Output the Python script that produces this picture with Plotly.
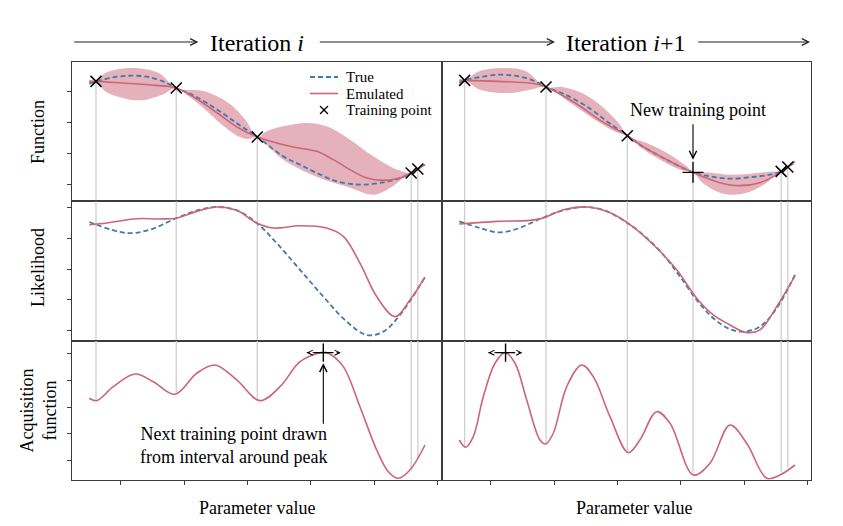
import plotly.graph_objects as go

# ---------------- data ----------------
x_tick_vals = [0.5, 1.5, 2.5, 3.5, 4.5, 5.5]
y_tick_vals_function = [0, 1, 2, 3]
y_tick_vals_like = [0, 1, 2, 3, 4]
y_tick_vals_acq = [0, 1, 2, 3, 4]
legend_labels = ["True", "Emulated", "Training point"]

# ---- Iteration i : function panel ----
it1_true_x = [0.0, 0.111, 0.411, 0.675, 0.938, 1.201, 1.374, 1.675, 2.022, 2.360, 2.654, 3.065, 3.329, 3.592, 3.908, 4.276, 4.645, 4.908, 5.085, 5.19, 5.303]
it1_true_y = [3.248, 3.323, 3.465, 3.506, 3.465, 3.290, 3.110, 2.839, 2.410, 1.932, 1.529, 0.903, 0.635, 0.368, 0.097, -0.010, 0.065, 0.200, 0.368, 0.497, 0.635]
it1_emu_x = [0.0, 0.111, 0.517, 1.043, 1.374, 1.675, 2.022, 2.360, 2.654, 2.960, 3.223, 3.592, 3.855, 4.118, 4.382, 4.645, 4.908, 5.085, 5.19, 5.303]
it1_emu_y = [3.323, 3.323, 3.271, 3.194, 3.110, 2.787, 2.303, 1.819, 1.529, 1.335, 1.206, 1.065, 0.797, 0.474, 0.206, 0.129, 0.206, 0.368, 0.497, 0.635]
it1_up_x = [0.0, 0.111, 0.253, 0.675, 1.096, 1.374, 1.833, 2.202, 2.464, 2.654, 2.802, 3.065, 3.434, 3.750, 4.118, 4.487, 4.803, 5.085, 5.19, 5.303]
it1_up_y = [3.377, 3.323, 3.594, 3.755, 3.594, 3.110, 3.000, 2.626, 2.087, 1.529, 1.710, 1.871, 1.981, 1.871, 1.442, 0.903, 0.529, 0.368, 0.497, 0.668]
it1_lo_x = [0.0, 0.111, 0.253, 0.780, 1.148, 1.374, 1.570, 1.833, 2.096, 2.360, 2.518, 2.654, 2.802, 3.065, 3.592, 4.118, 4.487, 4.751, 4.961, 5.085, 5.19, 5.303]
it1_lo_y = [3.248, 3.323, 3.000, 2.710, 2.894, 3.110, 2.839, 2.410, 1.926, 1.548, 1.465, 1.529, 1.281, 0.797, 0.248, -0.106, -0.332, -0.116, 0.206, 0.368, 0.497, 0.603]
it1_train_x = [0.106, 1.374, 2.654, 5.085, 5.19]
it1_train_y = [3.323, 3.110, 1.529, 0.368, 0.497]

# ---- Iteration i+1 : function panel ----
it2_true_x = [0.0, 0.09, 0.253, 0.622, 0.938, 1.201, 1.37, 1.675, 2.044, 2.360, 2.654, 2.853, 3.223, 3.692, 3.960, 4.276, 4.645, 4.908, 5.085, 5.19, 5.303]
it2_true_y = [3.271, 3.355, 3.432, 3.539, 3.484, 3.323, 3.142, 2.894, 2.474, 1.990, 1.571, 1.281, 0.852, 0.387, 0.258, 0.184, 0.239, 0.313, 0.419, 0.561, 0.710]
it2_emu_x = [0.0, 0.09, 0.622, 1.201, 1.37, 1.833, 2.254, 2.654, 2.934, 3.329, 3.692, 4.118, 4.408, 4.750, 4.987, 5.085, 5.19, 5.303]
it2_emu_y = [3.355, 3.355, 3.323, 3.248, 3.142, 2.626, 2.032, 1.571, 1.184, 0.742, 0.387, 0.055, -0.042, 0.055, 0.281, 0.419, 0.561, 0.742]
it2_up_x = [0.0, 0.09, 0.295, 0.675, 1.038, 1.37, 1.622, 1.938, 2.254, 2.518, 2.654, 2.960, 3.329, 3.592, 3.692, 3.960, 4.276, 4.592, 4.908, 5.085, 5.19, 5.303]
it2_up_y = [3.403, 3.355, 3.635, 3.755, 3.668, 3.142, 3.142, 2.948, 2.516, 1.981, 1.571, 1.335, 0.958, 0.581, 0.387, 0.377, 0.313, 0.345, 0.410, 0.419, 0.561, 0.730]
it2_lo_x = [0.0, 0.09, 0.327, 0.780, 1.117, 1.37, 1.728, 2.096, 2.464, 2.654, 2.853, 3.171, 3.487, 3.692, 3.845, 4.118, 4.329, 4.592, 4.856, 5.0, 5.085, 5.19, 5.303]
it2_lo_y = [3.281, 3.355, 3.055, 2.948, 3.055, 3.142, 2.665, 2.150, 1.700, 1.571, 1.206, 0.797, 0.474, 0.387, 0.045, -0.268, -0.332, -0.236, 0.055, 0.313, 0.419, 0.561, 0.690]
it2_train_x = [0.085, 1.37, 2.654, 5.085, 5.19]
it2_train_y = [3.355, 3.142, 1.571, 0.419, 0.561]
new_train_x = [3.692]
new_train_y = [0.387]

# ---- Likelihood ----
it1_like_true_x = [0.0, 0.591, 0.959, 1.381, 1.749, 2.013, 2.329, 2.645, 2.960, 3.329, 3.697, 4.066, 4.382, 4.645, 4.908, 5.303]
it1_like_true_y = [3.542, 3.183, 3.291, 3.673, 3.944, 4.033, 3.922, 3.510, 2.856, 1.984, 1.111, 0.294, -0.141, -0.033, 0.513, 1.745]
it1_like_emu_x = [0.0, 0.275, 0.749, 1.117, 1.381, 1.749, 2.013, 2.329, 2.645, 2.907, 3.329, 3.750, 4.013, 4.276, 4.540, 4.830, 5.066, 5.303]
it1_like_emu_y = [3.454, 3.510, 3.650, 3.641, 3.673, 3.922, 4.033, 3.922, 3.510, 3.346, 3.422, 3.346, 3.072, 2.203, 1.111, 0.458, 1.003, 1.745]
it2_like_true_x = [0.0, 0.327, 0.616, 0.907, 1.275, 1.643, 2.013, 2.329, 2.697, 2.960, 3.223, 3.487, 3.750, 4.013, 4.276, 4.487, 4.750, 5.014, 5.303]
it2_like_true_y = [3.562, 3.346, 3.203, 3.314, 3.641, 3.922, 4.033, 3.889, 3.454, 3.020, 2.474, 1.765, 1.003, 0.405, 0.046, -0.033, 0.131, 0.732, 1.820]
it2_like_emu_x = [0.0, 0.591, 1.117, 1.327, 1.643, 2.013, 2.329, 2.697, 3.118, 3.434, 3.750, 4.013, 4.276, 4.540, 4.750, 5.014, 5.303]
it2_like_emu_y = [3.477, 3.562, 3.595, 3.673, 3.944, 4.033, 3.889, 3.454, 2.693, 1.984, 1.059, 0.513, 0.186, -0.065, 0.023, 0.784, 1.788]

# ---- Acquisition function ----
it1_acq_x = [0.0, 0.117, 0.379, 0.722, 1.011, 1.354, 1.697, 1.986, 2.329, 2.697, 3.013, 3.329, 3.645, 3.700, 3.776, 4.013, 4.276, 4.540, 4.724, 4.882, 5.066, 5.303]
it1_acq_y = [2.331, 2.241, 2.767, 3.244, 2.955, 2.481, 3.271, 3.583, 3.019, 2.241, 2.767, 3.707, 4.045, 4.055, 4.023, 3.519, 2.015, 0.387, -0.429, -0.677, -0.365, 0.575]
it1_acq_at_train = [2.241, 2.480, 2.241, -0.365, 0.050]
it2_acq_x = [0.0, 0.101, 0.221, 0.379, 0.564, 0.722, 0.880, 1.065, 1.275, 1.365, 1.485, 1.697, 1.934, 2.117, 2.381, 2.670, 2.853, 3.118, 3.329, 3.697, 3.960, 4.276, 4.540, 4.856, 5.066, 5.303]
it2_acq_y = [0.763, 0.489, 0.887, 2.391, 3.647, 4.045, 3.647, 2.267, 0.763, 0.613, 1.015, 2.767, 3.583, 3.143, 1.639, 0.286, 0.763, 1.827, 1.391, -0.553, -0.113, 1.327, 0.639, -0.677, -0.553, -0.177]
it2_acq_at_train = [0.489, 0.613, 0.286, -0.553, -0.430, -0.300]
it2_all_train_x = [0.085, 1.37, 2.654, 3.692, 5.085, 5.19]

# peaks of acquisition (next point) and the sampling interval around them
it1_peak = (3.697, 4.045)
it1_interval = (3.434, 3.972)
it2_peak = (0.731, 4.045)
it2_interval = (0.458, 0.995)

# ---------------- style ----------------
FONT = "Liberation Serif"
RED = "#CC6677"
BLUE = "#4477AA"
BAND = "rgba(204,102,119,0.5)"
GREY = "#cfcfcf"
SPINE = "#3c3c3c"

W, H = 843, 526
ML, MR, MT, MB = 72, 32, 62, 46
PW = W - ML - MR
PH = H - MT - MB
split = 370 / PW

x_ranges = [[-0.273, 5.572], [-0.273, 5.556]]
y_ranges = [[-0.548, 3.948], [-0.327, 4.216], [-0.741, 4.496]]
y_ticks = [y_tick_vals_function, y_tick_vals_like, y_tick_vals_acq]


def axn(i):
    return ("x" if i == 1 else f"x{i}"), ("y" if i == 1 else f"y{i}")


def px2paper_x(px):
    return (px - ML) / PW


def px2paper_y(py):
    return (H - MB - py) / PH


fig = go.Figure()


def add(i, **kw):
    xa, ya = axn(i)
    kw.setdefault("showlegend", False)
    kw.setdefault("hoverinfo", "skip")
    fig.add_trace(go.Scatter(xaxis=xa, yaxis=ya, **kw))


def vlines(i, xs, y0s, y1s):
    X, Y = [], []
    for x, a, b in zip(xs, y0s, y1s):
        X += [x, x, None]
        Y += [a, b, None]
    add(i, x=X, y=Y, mode="lines", line=dict(color=GREY, width=1.3))


# ---- grey training-point guide lines ----
ymin_top = y_ranges[0][0]
vlines(1, it1_train_x, it1_train_y, [ymin_top] * len(it1_train_x))
vlines(2, it2_train_x + new_train_x, it2_train_y + new_train_y, [ymin_top] * 6)
vlines(3, it1_train_x, [y_ranges[1][1]] * 5, [y_ranges[1][0]] * 5)
vlines(4, it2_all_train_x, [y_ranges[1][1]] * 6, [y_ranges[1][0]] * 6)
vlines(5, it1_train_x, [y_ranges[2][1]] * 5, it1_acq_at_train)
vlines(6, it2_all_train_x, [y_ranges[2][1]] * 6, it2_acq_at_train)

# ---- function panels ----
for i, (lx, ly, ux, uy, tx, ty, ex, ey, px, py) in zip(
    [1, 2],
    [
        (it1_lo_x, it1_lo_y, it1_up_x, it1_up_y, it1_true_x, it1_true_y, it1_emu_x, it1_emu_y, it1_train_x, it1_train_y),
        (it2_lo_x, it2_lo_y, it2_up_x, it2_up_y, it2_true_x, it2_true_y, it2_emu_x, it2_emu_y, it2_train_x, it2_train_y),
    ],
):
    add(i, x=lx, y=ly, mode="lines", line=dict(width=0, shape="spline", color=BAND))
    add(i, x=ux, y=uy, mode="lines", fill="tonexty", fillcolor=BAND,
        line=dict(width=0, shape="spline", color=BAND))
    add(i, x=tx, y=ty, mode="lines", line=dict(color=BLUE, width=1.8, dash="5px,3px", shape="spline"))
    add(i, x=ex, y=ey, mode="lines", line=dict(color=RED, width=1.6, shape="spline"))
    add(i, x=px, y=py, mode="markers",
        marker=dict(symbol="x-thin", size=11, line=dict(width=1.5, color="black"), color="black"))

add(2, x=new_train_x, y=new_train_y, mode="markers",
    marker=dict(symbol="cross-thin", size=15, line=dict(width=1.4, color="black"), color="black"))

# ---- likelihood panels ----
add(3, x=it1_like_true_x, y=it1_like_true_y, mode="lines",
    line=dict(color=BLUE, width=1.8, dash="5px,3px", shape="spline"))
add(3, x=it1_like_emu_x, y=it1_like_emu_y, mode="lines",
    line=dict(color=RED, width=1.6, shape="spline"))
add(4, x=it2_like_true_x, y=it2_like_true_y, mode="lines",
    line=dict(color=BLUE, width=1.8, dash="5px,3px", shape="spline"))
add(4, x=it2_like_emu_x, y=it2_like_emu_y, mode="lines",
    line=dict(color=RED, width=1.6, shape="spline"))

# ---- acquisition panels ----
add(5, x=it1_acq_x, y=it1_acq_y, mode="lines", line=dict(color=RED, width=1.6, shape="spline"))
add(6, x=it2_acq_x, y=it2_acq_y, mode="lines", line=dict(color=RED, width=1.6, shape="spline"))

annotations = []
shapes = []
for i, peak, itv in [(5, it1_peak, it1_interval), (6, it2_peak, it2_interval)]:
    xa, ya = axn(i)
    add(i, x=[itv[0], itv[1]], y=[peak[1], peak[1]], mode="lines",
        line=dict(color="black", width=1, dash="dot"))
    add(i, x=[peak[0]], y=[peak[1]], mode="markers",
        marker=dict(symbol="cross-thin", size=13, line=dict(width=1.4, color="black"), color="black"))
    for xe, off in [(itv[0], 4), (itv[1], -4)]:
        annotations.append(dict(x=xe, y=peak[1], xref=xa, yref=ya, ax=off, ay=0, text="",
                                showarrow=True, arrowhead=5, arrowsize=1.0, arrowwidth=1,
                                arrowcolor="black", standoff=0, startstandoff=0))

# ---- annotations: arrows & text ----
annotations.append(dict(x=it1_peak[0], y=3.647, xref="x5", yref="y5", ax=0, ay=62, text="",
                        showarrow=True, arrowhead=5, arrowsize=1.3, arrowwidth=1.1,
                        arrowcolor="black", standoff=0, startstandoff=0))
annotations.append(dict(x=2.278, y=0.556, xref="x5", yref="y5", showarrow=False,
                        text="Next training point drawn<br>from interval around peak",
                        font=dict(family=FONT, size=18, color="black"), align="center"))
annotations.append(dict(x=new_train_x[0], y=0.797, xref="x2", yref="y2", ax=0, ay=-37, text="",
                        showarrow=True, arrowhead=5, arrowsize=1.3, arrowwidth=1.1,
                        arrowcolor="black", standoff=0, startstandoff=0))
annotations.append(dict(x=3.768, y=2.41, xref="x2", yref="y2", showarrow=False,
                        text="New training point", font=dict(family=FONT, size=18, color="black")))

# header arrows and titles
hy = px2paper_y(42)
for head, length in [(198.3, 125.6), (555.0, 236.7), (810.0, 113.3)]:
    annotations.append(dict(x=px2paper_x(head), y=hy, xref="paper", yref="paper", ax=-length, ay=0,
                            text="", showarrow=True, arrowhead=5, arrowsize=1.2, arrowwidth=1.1,
                            arrowcolor="#222222", standoff=0, startstandoff=0))
for txt, cx in [("Iteration <i>i</i>", 257), ("Iteration <i>i</i>+1", 626)]:
    annotations.append(dict(x=px2paper_x(cx), y=px2paper_y(43), xref="paper", yref="paper",
                            text=txt, showarrow=False, xanchor="center", yanchor="middle",
                            font=dict(family=FONT, size=24, color="black")))

for txt, cx in [("Parameter value", 257), ("Parameter value", 633.7)]:
    annotations.append(dict(x=px2paper_x(cx), y=px2paper_y(508), xref="paper", yref="paper",
                            text=txt, showarrow=False, xanchor="center", yanchor="middle",
                            font=dict(family=FONT, size=18, color="black")))

for txt, cy in [("Function", 132), ("Likelihood", 268), ("Acquisition<br>function", 410.5)]:
    annotations.append(dict(x=px2paper_x(38), y=px2paper_y(cy), xref="paper", yref="paper",
                            text=txt, showarrow=False, textangle=-90, xanchor="center", yanchor="middle",
                            font=dict(family=FONT, size=18, color="black")))

# ---- legend (drawn by hand for compact matplotlib-like spacing) ----
leg_rows = [77, 93.5, 110]
leg_line_x = (310, 338)
leg_text_x = 344
shapes.append(dict(type="line", xref="paper", yref="paper",
                   x0=px2paper_x(leg_line_x[0]), x1=px2paper_x(leg_line_x[1]),
                   y0=px2paper_y(leg_rows[0]), y1=px2paper_y(leg_rows[0]),
                   line=dict(color=BLUE, width=1.8, dash="5px,3px")))
shapes.append(dict(type="line", xref="paper", yref="paper",
                   x0=px2paper_x(leg_line_x[0]), x1=px2paper_x(leg_line_x[1]),
                   y0=px2paper_y(leg_rows[1]), y1=px2paper_y(leg_rows[1]),
                   line=dict(color=RED, width=1.6)))
cxm, cym, hs = 324, leg_rows[2], 4
for dy in (hs, -hs):
    shapes.append(dict(type="line", xref="paper", yref="paper",
                       x0=px2paper_x(cxm - hs), x1=px2paper_x(cxm + hs),
                       y0=px2paper_y(cym - dy), y1=px2paper_y(cym + dy),
                       line=dict(color="black", width=1.3)))
for lab, ry in zip(legend_labels, leg_rows):
    annotations.append(dict(x=px2paper_x(leg_text_x), y=px2paper_y(ry), xref="paper", yref="paper",
                            text=lab, showarrow=False, xanchor="left", yanchor="middle",
                            font=dict(family=FONT, size=15, color="black")))

layout = dict(
    width=W, height=H,
    margin=dict(l=ML, r=MR, t=MT, b=MB),
    paper_bgcolor="white", plot_bgcolor="white",
    font=dict(family=FONT, color="black"),
    annotations=annotations,
    shapes=shapes,
    showlegend=False,
)

for i in range(1, 7):
    col = (i - 1) % 2
    row = (i - 1) // 2
    xa, ya = axn(i)
    xk = "xaxis" if i == 1 else f"xaxis{i}"
    yk = "yaxis" if i == 1 else f"yaxis{i}"
    layout[xk] = dict(
        domain=[0, split] if col == 0 else [split, 1],
        range=x_ranges[col], anchor=ya,
        showline=True, mirror=True, linecolor=SPINE, linewidth=1.2,
        showgrid=False, zeroline=False, showticklabels=False,
        ticks="outside" if row == 2 else "", tickvals=x_tick_vals,
        ticklen=4, tickwidth=1, tickcolor=SPINE,
    )
    layout[yk] = dict(
        domain=[[2 / 3, 1], [1 / 3, 2 / 3], [0, 1 / 3]][row],
        range=y_ranges[row], anchor=xa,
        showline=True, mirror=True, linecolor=SPINE, linewidth=1.2,
        showgrid=False, zeroline=False, showticklabels=False,
        ticks="outside" if col == 0 else "", tickvals=y_ticks[row] if col == 0 else [],
        ticklen=4, tickwidth=1, tickcolor=SPINE,
    )

fig.update_layout(**layout)
fig.write_html("out.html", config={"displayModeBar": False},
               post_script="document.body.style.margin='0px';document.body.style.overflow='hidden';")
